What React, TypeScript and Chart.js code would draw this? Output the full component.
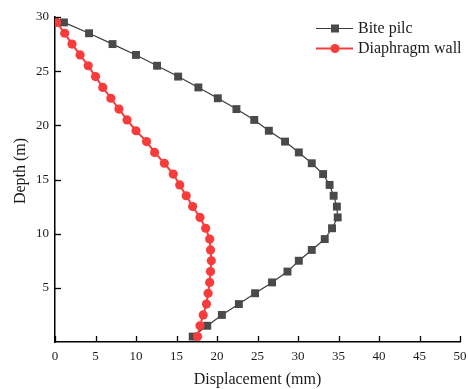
import React, { useEffect, useRef } from "react";
import { Chart, registerables } from "chart.js";

Chart.register(...registerables);

const depths = [0.5, 1.5, 2.5, 3.5, 4.5, 5.5, 6.5, 7.5, 8.5, 9.5, 10.5, 11.5, 12.5, 13.5, 14.5, 15.5, 16.5, 17.5, 18.5, 19.5, 20.5, 21.5, 22.5, 23.5, 24.5, 25.5, 26.5, 27.5, 28.5, 29.5];
const bitePile = [17.0, 18.8, 20.6, 22.7, 24.7, 26.8, 28.7, 30.1, 31.7, 33.3, 34.2, 34.9, 34.8, 34.4, 33.9, 33.1, 31.7, 30.1, 28.4, 26.4, 24.6, 22.4, 20.1, 17.7, 15.2, 12.6, 10.0, 7.1, 4.2, 1.1];
const diaphragmWall = [17.6, 17.9, 18.3, 18.7, 18.9, 19.1, 19.2, 19.3, 19.2, 19.1, 18.6, 17.9, 17.0, 16.2, 15.4, 14.6, 13.5, 12.3, 11.3, 10.0, 8.9, 7.9, 6.9, 5.9, 5.0, 4.1, 3.1, 2.1, 1.2, 0.2];
const xTickValues = [0, 5, 10, 15, 20, 25, 30, 35, 40, 45, 50];
const yTickValues = [5, 10, 15, 20, 25, 30];
const seriesNames = ["Bite pilc", "Diaphragm wall"];
const xTitle = "Displacement (mm)";
const yTitle = "Depth (m)";

const SERIF = '"Liberation Serif", "Times New Roman", serif';
const GRAY = "#4a4a4a";
const GRAY_LINE = "#3c3c3c";
const RED = "#f83c3c";

const decor = {
  id: "decor",
  afterDraw(chart: any) {
    const ctx = chart.ctx;
    const xs = chart.scales.x;
    const ys = chart.scales.y;
    const area = chart.chartArea;
    ctx.save();
    ctx.strokeStyle = "#000";
    ctx.lineWidth = 1.3;
    xTickValues.forEach((v) => {
      const px = Math.round(xs.getPixelForValue(v)) + 0.5;
      ctx.beginPath();
      ctx.moveTo(px, area.bottom);
      ctx.lineTo(px, area.bottom - 6);
      ctx.stroke();
    });
    yTickValues.forEach((v) => {
      const py = Math.round(ys.getPixelForValue(v)) + 0.5;
      ctx.beginPath();
      ctx.moveTo(area.left, py);
      ctx.lineTo(area.left + 6, py);
      ctx.stroke();
    });

    ctx.fillStyle = "#1a1a1a";
    ctx.font = `16px ${SERIF}`;
    ctx.textAlign = "center";
    ctx.textBaseline = "middle";
    ctx.save();
    ctx.translate(21, 171);
    ctx.rotate(-Math.PI / 2);
    ctx.fillText(yTitle, 0, 0);
    ctx.restore();

    const rows = [
      { y: 28, color: GRAY_LINE, fill: GRAY, shape: "rect", lw: 1.2 },
      { y: 48, color: RED, fill: RED, shape: "circle", lw: 2 },
    ];
    rows.forEach((r, i) => {
      ctx.strokeStyle = r.color;
      ctx.lineWidth = r.lw;
      ctx.beginPath();
      ctx.moveTo(316, r.y + 0.5);
      ctx.lineTo(353, r.y + 0.5);
      ctx.stroke();
      ctx.fillStyle = r.fill;
      if (r.shape === "rect") {
        ctx.fillRect(331, r.y - 3.5, 8, 8);
      } else {
        ctx.beginPath();
        ctx.arc(335, r.y + 0.5, 4.5, 0, Math.PI * 2);
        ctx.fill();
      }
      ctx.fillStyle = "#1a1a1a";
      ctx.font = `16px ${SERIF}`;
      ctx.textAlign = "left";
      ctx.textBaseline = "middle";
      ctx.fillText(seriesNames[i], 358, r.y + 1);
    });
    ctx.restore();
  },
};

export default function App() {
  const ref = useRef<HTMLCanvasElement | null>(null);
  useEffect(() => {
    if (!ref.current) return;
    const chart = new Chart(ref.current, {
      type: "scatter",
      data: {
        datasets: [
          {
            label: seriesNames[0],
            data: depths.map((d, i) => ({ x: bitePile[i], y: d })),
            showLine: true,
            borderColor: GRAY_LINE,
            backgroundColor: GRAY,
            borderWidth: 1.2,
            pointStyle: "rect",
            pointRadius: 5.6,
            pointBorderWidth: 0,
            order: 1,
          },
          {
            label: seriesNames[1],
            data: depths.map((d, i) => ({ x: diaphragmWall[i], y: d })),
            showLine: true,
            borderColor: RED,
            backgroundColor: RED,
            borderWidth: 2,
            pointStyle: "circle",
            pointRadius: 4.6,
            pointBorderWidth: 0,
            order: 0,
          },
        ],
      },
      options: {
        responsive: false,
        animation: false,
        layout: { padding: { top: 17, right: 8, left: 0, bottom: 0 } },
        plugins: { legend: { display: false }, tooltip: { enabled: false } },
        scales: {
          x: {
            type: "linear",
            min: 0,
            max: 50,
            afterFit: (s: any) => { s.height = 47; s.paddingLeft = 0; s.paddingRight = 0; },
            afterBuildTicks: (s: any) => { s.ticks = xTickValues.map((v) => ({ value: v })); },
            grid: { drawOnChartArea: false, drawTicks: false },
            border: { display: true, color: "#000", width: 1.5 },
            ticks: { color: "#1a1a1a", padding: 7, font: { family: SERIF, size: 13 }, maxRotation: 0 },
            title: { display: true, text: xTitle, color: "#1a1a1a", font: { family: SERIF, size: 16 }, padding: { top: 0, bottom: 0 } },
          },
          y: {
            type: "linear",
            min: 0,
            max: 30,
            afterFit: (s: any) => { s.width = 55; s.paddingTop = 0; s.paddingBottom = 0; },
            afterBuildTicks: (s: any) => { s.ticks = yTickValues.map((v) => ({ value: v })); },
            grid: { drawOnChartArea: false, drawTicks: false },
            border: { display: true, color: "#000", width: 1.5 },
            ticks: { color: "#1a1a1a", padding: 6, font: { family: SERIF, size: 13 } },
          },
        },
      },
      plugins: [decor],
    } as any);
    return () => chart.destroy();
  }, []);
  return (
    <div style={{ position: "absolute", left: 0, top: 0, width: 468, height: 389 }}>
      <canvas ref={ref} width={468} height={389} style={{ display: "block" }} />
    </div>
  );
}
